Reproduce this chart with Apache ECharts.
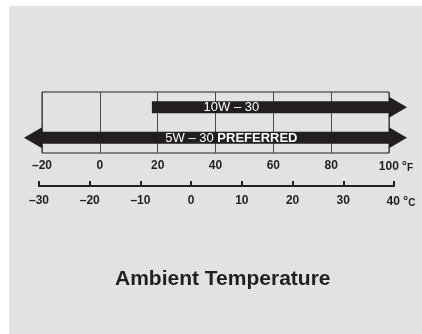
<!DOCTYPE html>
<html>
<head>
<meta charset="utf-8">
<script src="https://cdn.jsdelivr.net/npm/echarts@6/dist/echarts.min.js"></script>
<style>
  html, body { margin: 0; padding: 0; background: #fff; }
  #panel { position: absolute; left: 9px; top: 6px; width: 413px; height: 328px; background: #e1e2e4; }
  #chart { position: absolute; left: 0; top: 0; width: 422px; height: 334px; }
</style>
</head>
<body>
<div id="panel"></div>
<div id="chart"></div>
<script>
// oil grades and the temperature span (in °F) each one covers
var grades = ['10W-30', '5W-30']
var gradeText = ['10W \u2013 30', '5W \u2013 30']
var gradeNote = ['', 'PREFERRED']
var gradeFrom = [18, -20]
var gradeTo = [100, 100]
var arrowLeft = [0, 1]
var arrowRight = [1, 1]

// the two scales
var fahrenheitRange = [-20, 100]
var fahrenheitStep = 20
var celsiusRange = [-30, 40]
var celsiusStep = 10

var ink = '#231f20'
var plain = '"Liberation Sans", Arial, sans-serif'

function dash(v) {
  return String(v).replace('-', '\u2013')
}

var chart = echarts.init(document.getElementById('chart'))

var seriesData = grades.map(function(g, i) {
  return [i, gradeFrom[i], gradeTo[i], arrowLeft[i], arrowRight[i]]
})

function renderArrow(params, api) {
  var yc = api.coord([0, api.value(0)])[1]
  var x0 = api.coord([api.value(1), 0])[0]
  var x1 = api.coord([api.value(2), 0])[0]
  var bh = 12 // body height
  var hh = 21 // head height
  var hl = 18 // head length
  var pts = []
  if (api.value(3)) {
    pts.push([x0 - hl, yc], [x0, yc - hh / 2], [x0, yc - bh / 2])
  } else {
    pts.push([x0, yc - bh / 2])
  }
  if (api.value(4)) {
    pts.push([x1, yc - bh / 2], [x1, yc - hh / 2], [x1 + hl, yc], [x1, yc + hh / 2], [x1, yc + bh / 2])
  } else {
    pts.push([x1, yc - bh / 2], [x1, yc + bh / 2])
  }
  if (api.value(3)) {
    pts.push([x0, yc + bh / 2], [x0, yc + hh / 2])
  } else {
    pts.push([x0, yc + bh / 2])
  }
  var i = params.dataIndex
  var textX = api.coord([45.5, 0])[0]
  var txt = gradeText[i] + (gradeNote[i] ? ' {b|' + gradeNote[i] + '}' : '')
  return {
    type: 'group',
    children: [
      {
        type: 'polygon',
        shape: { points: pts },
        style: { fill: ink }
      },
      {
        type: 'text',
        x: textX,
        y: yc + 0.5,
        style: {
          text: txt,
          fill: '#fff',
          font: 'normal 13px ' + plain,
          align: 'center',
          verticalAlign: 'middle',
          rich: {
            b: { fill: '#fff', fontWeight: 'bold', fontSize: 13, fontFamily: plain }
          }
        }
      }
    ]
  }
}

var unitRich = {
  p: { width: 14 },
  d: { fontSize: 13, fontWeight: 'bold', fontFamily: plain, color: ink, padding: [0, 0, 0, 3] },
  f: { fontSize: 10, lineHeight: 10, fontFamily: plain, color: ink, padding: [3, 0, 0, 0] }
}

var option = {
  animation: false,
  title: {
    text: 'Ambient Temperature',
    left: 110,
    top: 264,
    textStyle: {
      color: ink,
      fontSize: 21,
      fontWeight: 'bold',
      fontFamily: plain
    }
  },
  grid: [
    {
      left: 42,
      right: 33,
      top: 92,
      height: 61,
      show: true,
      borderColor: ink,
      borderWidth: 1,
      backgroundColor: 'transparent'
    },
    {
      left: 39,
      right: 28,
      top: 185,
      height: 1
    }
  ],
  xAxis: [
    {
      gridIndex: 0,
      type: 'value',
      min: fahrenheitRange[0],
      max: fahrenheitRange[1],
      interval: fahrenheitStep,
      axisLine: { show: false },
      axisTick: { show: false },
      splitLine: {
        show: true,
        lineStyle: { color: '#4a4a4a', width: 1 }
      },
      axisLabel: {
        margin: 7,
        color: ink,
        fontSize: 12,
        fontWeight: 'bold',
        fontFamily: plain,
        formatter: function(v) {
          if (v === fahrenheitRange[1]) return '{p|}' + v + '{d|°}{f|F}'
          return dash(v)
        },
        rich: unitRich
      }
    },
    {
      gridIndex: 1,
      type: 'value',
      min: celsiusRange[0],
      max: celsiusRange[1],
      interval: celsiusStep,
      position: 'bottom',
      axisLine: {
        show: true,
        onZero: false,
        lineStyle: { color: ink, width: 2 }
      },
      axisTick: {
        show: true,
        inside: true,
        length: 5,
        lineStyle: { color: ink, width: 2 }
      },
      splitLine: { show: false },
      axisLabel: {
        margin: 9,
        color: ink,
        fontSize: 12,
        fontWeight: 'bold',
        fontFamily: plain,
        formatter: function(v) {
          if (v === celsiusRange[1]) return '{p|}' + v + '{d|°}{f|C}'
          return dash(v)
        },
        rich: unitRich
      }
    }
  ],
  yAxis: [
    {
      gridIndex: 0,
      type: 'category',
      data: grades,
      inverse: true,
      show: false
    },
    {
      gridIndex: 1,
      type: 'value',
      show: false
    }
  ],
  series: [
    {
      type: 'custom',
      xAxisIndex: 0,
      yAxisIndex: 0,
      clip: false,
      renderItem: renderArrow,
      encode: { x: [1, 2], y: 0 },
      data: seriesData
    }
  ]
}

chart.setOption(option)
</script>
</body>
</html>
